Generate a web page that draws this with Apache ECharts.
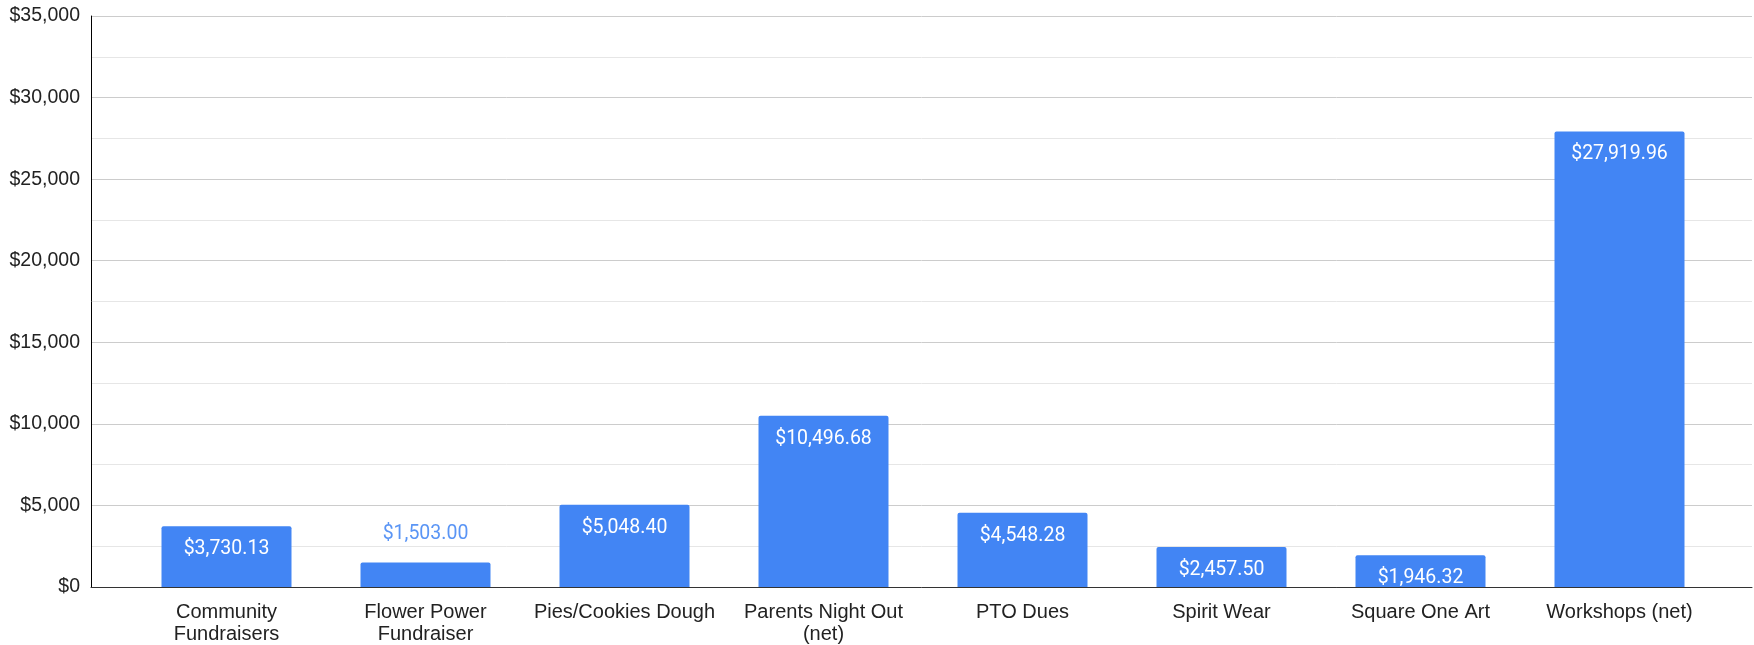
<!DOCTYPE html>
<html>
<head>
<meta charset="utf-8">
<script src="https://cdn.jsdelivr.net/npm/echarts@6/dist/echarts.min.js"></script>
<style>
  html, body { margin: 0; padding: 0; background: #fff; }
  #chart { width: 1754px; height: 645px; }
</style>
</head>
<body>
<div id="chart"></div>
<script>
// categories (with the line breaks used on the axis)
const categories = [
    'Community\nFundraisers',
    'Flower Power\nFundraiser',
    'Pies/Cookies Dough',
    'Parents Night Out\n(net)',
    'PTO Dues',
    'Spirit Wear',
    'Square One Art',
    'Workshops (net)'
];
const amounts = [3730.13, 1503.00, 5048.40, 10496.68, 4548.28, 2457.50, 1946.32, 27919.96];
const yMin = 0, yMax = 35000, yStep = 5000;

// $1,234.56 style
function money(v, dec) {
    let s = v.toFixed(dec);
    let parts = s.split('.');
    parts[0] = parts[0].replace(/\B(?=(\d{3})+(?!\d))/g, ',');
    return '$' + parts.join('.');
}

window.onload = function () {
    let chart = echarts.init(document.getElementById('chart'));

    // short bars get their label above the bar, in blue
    let barData = amounts.map(function (v) {
        if (v < 1700) {
            return {
                value: v,
                label: { position: 'top', distance: 18, color: '#5a95f5' }
            };
        }
        return v;
    });

    let option = {
        animation: false,
        textStyle: { fontFamily: 'Liberation Sans, Arial, sans-serif' },
        grid: [
            // full width grid: gridlines + axes lines
            { left: 91, right: 2, top: 16, bottom: 58 },
            // inner grid: where the bars live
            { left: 127, width: 1592, top: 16, bottom: 58 }
        ],
        xAxis: [
            {
                gridIndex: 0,
                type: 'category',
                data: [''],
                axisLine: { lineStyle: { color: '#333', width: 1 } },
                axisTick: { show: false },
                axisLabel: { show: false },
                splitLine: { show: false }
            },
            {
                gridIndex: 1,
                type: 'category',
                data: categories,
                axisLine: { show: false },
                axisTick: { show: false },
                axisLabel: {
                    margin: 14,
                    color: '#222',
                    fontSize: 20,
                    lineHeight: 22,
                    interval: 0,
                    fontFamily: 'Liberation Sans, Arial, sans-serif'
                }
            }
        ],
        yAxis: [
            {
                gridIndex: 0,
                type: 'value',
                min: yMin,
                max: yMax,
                interval: yStep,
                axisLine: { show: true, lineStyle: { color: '#000', width: 1 } },
                axisTick: { show: false },
                axisLabel: {
                    margin: 11,
                    color: '#222',
                    fontSize: 19.5,
                    fontFamily: 'Liberation Sans, Arial, sans-serif',
                    formatter: function (v) { return money(v, 0); }
                },
                splitLine: { lineStyle: { color: '#cccccc', width: 1 } },
                minorTick: { show: false, splitNumber: 2 },
                minorSplitLine: { show: true, lineStyle: { color: '#e6e6e6', width: 1 } }
            },
            {
                gridIndex: 1,
                type: 'value',
                min: yMin,
                max: yMax,
                interval: yStep,
                show: false,
                splitLine: { show: false }
            }
        ],
        series: [
            {
                type: 'bar',
                xAxisIndex: 1,
                yAxisIndex: 1,
                data: barData,
                barWidth: 130,
                itemStyle: { color: '#4285f4', borderRadius: [2, 2, 0, 0] },
                label: {
                    show: true,
                    position: 'insideTop',
                    distance: 13,
                    color: '#fff',
                    fontSize: 19.5,
                    fontFamily: 'Roboto, sans-serif',
                    formatter: function (p) { return money(p.value, 2); }
                }
            }
        ]
    };

    chart.setOption(option);
};
</script>
</body>
</html>
